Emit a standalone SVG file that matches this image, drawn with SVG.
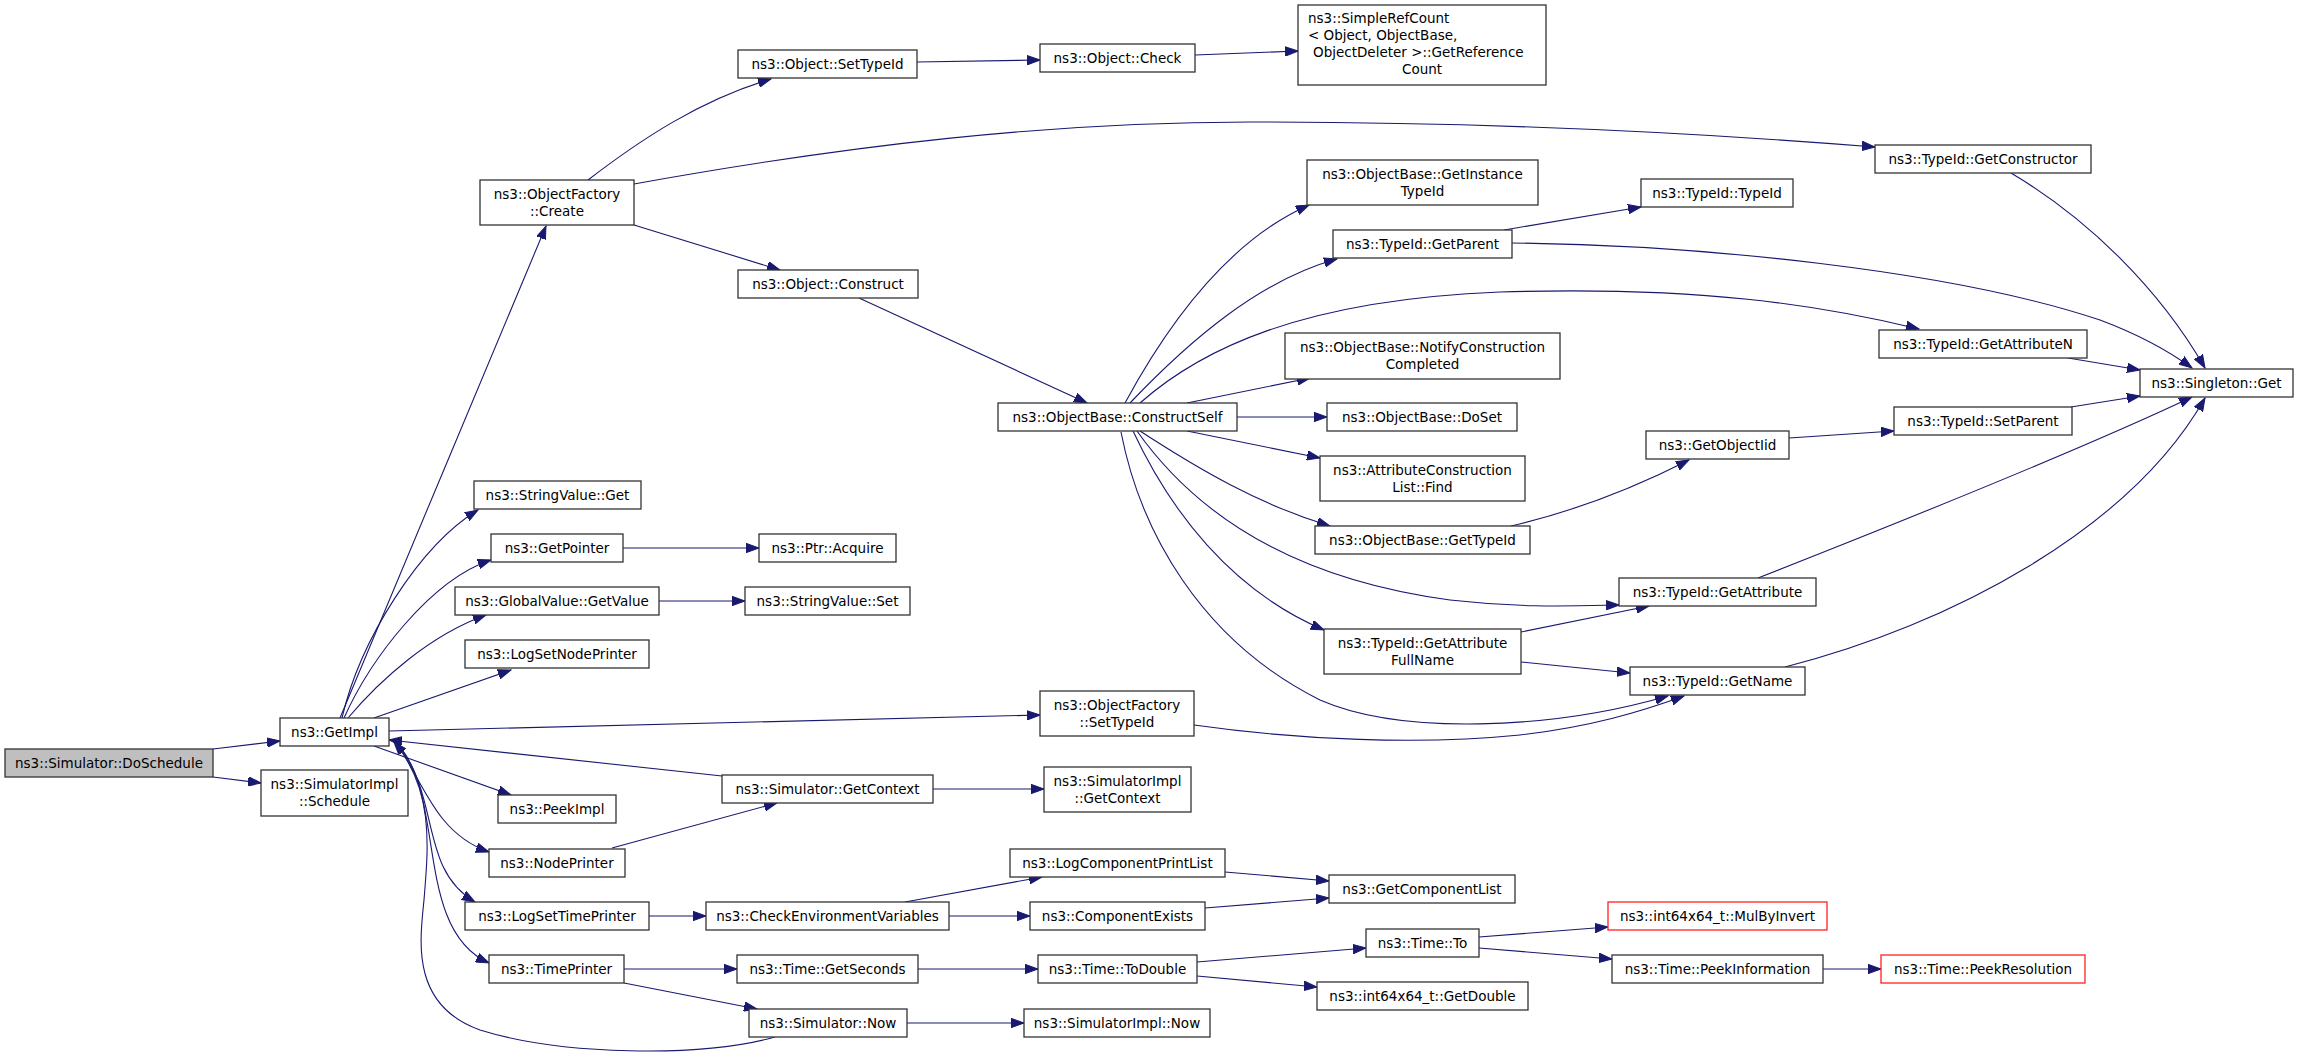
<svg xmlns="http://www.w3.org/2000/svg" width="2299" height="1059" viewBox="0 0 2299 1059">
<defs>
<marker id="ah" markerUnits="userSpaceOnUse" markerWidth="14" markerHeight="10" refX="13" refY="5" orient="auto">
<path d="M0,0.3 L13,5 L0,9.7 z" fill="#191970" stroke="#191970" stroke-width="1"/>
</marker>
<style>
.n rect{fill:#fff;stroke:#333;stroke-width:1.3}
.n rect.g{fill:#bfbfbf}
.n rect.r{stroke:#ff2020}
.n text{font-family:"DejaVu Sans","Liberation Sans",sans-serif;font-size:13.5px;text-anchor:middle;fill:#000}
.n text.l{text-anchor:start}
#edges path{fill:none;stroke:#191970;stroke-width:1.1;marker-end:url(#ah)}
</style>
</defs>
<rect width="2299" height="1059" fill="#fff"/>
<g id="edges">
<path d="M213,749 L280,741"/>
<path d="M213,777 L261,783"/>
<path d="M340,718 C342,712 530,265 546,226"/>
<path d="M342,718 C360,640 420,545 478,510"/>
<path d="M344,718 C370,660 430,580 491,560"/>
<path d="M348,718 C380,680 430,635 486,615"/>
<path d="M374,718 L511,670"/>
<path d="M389,731 L1040,715"/>
<path d="M722,776 L389,740"/>
<path d="M374,746 L511,795"/>
<path d="M400,747 C425,790 440,835 489,852"/>
<path d="M400,747 C440,800 420,870 475,902"/>
<path d="M400,747 C445,800 415,930 489,963"/>
<path d="M775,1037 C700,1058 560,1055 480,1030 C410,1005 420,940 424,900 C428,850 435,790 394,742"/>
<path d="M612,848 L777,803"/>
<path d="M623,548 L759,548"/>
<path d="M659,601 L745,601"/>
<path d="M649,916 L706,916"/>
<path d="M624,969 L737,969"/>
<path d="M624,983 L757,1009"/>
<path d="M933,789 L1044,789"/>
<path d="M905,902 L1042,877"/>
<path d="M949,916 L1030,916"/>
<path d="M918,969 L1038,969"/>
<path d="M907,1023 L1024,1023"/>
<path d="M1225,872 L1329,881"/>
<path d="M1205,908 L1329,898"/>
<path d="M1197,962 L1366,948"/>
<path d="M1197,976 L1317,987"/>
<path d="M1479,937 L1608,927"/>
<path d="M1479,948 L1612,959"/>
<path d="M1823,969 L1881,969"/>
<path d="M1194,725 C1300,740 1420,745 1520,735 C1590,727 1640,712 1684,696"/>
<path d="M1121,432 C1140,530 1200,640 1320,700 C1400,735 1550,730 1668,696"/>
<path d="M859,298 L1087,403"/>
<path d="M588,180 C640,140 700,100 771,79"/>
<path d="M634,184 C850,145 1050,122 1250,122 C1500,122 1700,133 1875,147"/>
<path d="M634,225 L780,270"/>
<path d="M917,62 L1040,60"/>
<path d="M1195,55 L1298,51"/>
<path d="M1125,403 C1170,320 1230,240 1309,205"/>
<path d="M1130,403 C1190,340 1260,280 1337,259"/>
<path d="M1140,403 C1200,350 1300,300 1500,292 C1700,286 1820,305 1919,329"/>
<path d="M1187,403 L1310,378"/>
<path d="M1237,417 L1327,417"/>
<path d="M1187,431 L1320,458"/>
<path d="M1140,431 C1200,470 1260,505 1330,526"/>
<path d="M1133,431 C1170,510 1230,590 1324,630"/>
<path d="M1137,431 C1200,520 1300,580 1450,600 C1520,608 1570,606 1619,605"/>
<path d="M1521,632 L1649,606"/>
<path d="M1521,662 L1630,673"/>
<path d="M1511,526 C1580,510 1640,485 1689,460"/>
<path d="M1789,438 L1894,431"/>
<path d="M1504,230 L1641,207"/>
<path d="M1512,243 C1700,245 1950,270 2100,320 C2140,335 2170,352 2192,368"/>
<path d="M2011,173 C2090,220 2160,290 2205,368"/>
<path d="M2068,358 L2140,370"/>
<path d="M2071,407 L2140,396"/>
<path d="M1758,578 C1880,530 2080,450 2192,397"/>
<path d="M1785,667 C1950,625 2130,530 2205,398"/>
</g>
<g id="n1" class="n"><rect class="g" x="5" y="749" width="208" height="28"/><text x="109" y="768">ns3::Simulator::DoSchedule</text></g>
<g id="n2" class="n"><rect x="280" y="718" width="109" height="28"/><text x="334.5" y="737">ns3::GetImpl</text></g>
<g id="n3" class="n"><rect x="261" y="770" width="147" height="46"/><text x="334.5" y="789">ns3::SimulatorImpl</text><text x="334.5" y="806">::Schedule</text></g>
<g id="n4" class="n"><rect x="480" y="180" width="154" height="45"/><text x="557" y="199">ns3::ObjectFactory</text><text x="557" y="216">::Create</text></g>
<g id="n5" class="n"><rect x="474" y="481" width="167" height="28"/><text x="557.5" y="500">ns3::StringValue::Get</text></g>
<g id="n6" class="n"><rect x="491" y="534" width="132" height="28"/><text x="557" y="553">ns3::GetPointer</text></g>
<g id="n7" class="n"><rect x="759" y="534" width="137" height="28"/><text x="827.5" y="553">ns3::Ptr::Acquire</text></g>
<g id="n8" class="n"><rect x="455" y="587" width="204" height="28"/><text x="557" y="606">ns3::GlobalValue::GetValue</text></g>
<g id="n9" class="n"><rect x="745" y="587" width="165" height="28"/><text x="827.5" y="606">ns3::StringValue::Set</text></g>
<g id="n10" class="n"><rect x="465" y="640" width="184" height="28"/><text x="557" y="659">ns3::LogSetNodePrinter</text></g>
<g id="n11" class="n"><rect x="498" y="795" width="118" height="28"/><text x="557" y="814">ns3::PeekImpl</text></g>
<g id="n12" class="n"><rect x="489" y="849" width="136" height="28"/><text x="557" y="868">ns3::NodePrinter</text></g>
<g id="n13" class="n"><rect x="465" y="902" width="184" height="28"/><text x="557" y="921">ns3::LogSetTimePrinter</text></g>
<g id="n14" class="n"><rect x="489" y="955" width="135" height="28"/><text x="556.5" y="974">ns3::TimePrinter</text></g>
<g id="n15" class="n"><rect x="738" y="50" width="179" height="28"/><text x="827.5" y="69">ns3::Object::SetTypeId</text></g>
<g id="n16" class="n"><rect x="738" y="270" width="180" height="28"/><text x="828" y="289">ns3::Object::Construct</text></g>
<g id="n17" class="n"><rect x="1040" y="44" width="155" height="28"/><text x="1117.5" y="63">ns3::Object::Check</text></g>
<g id="n18" class="n"><rect x="1298" y="5" width="248" height="80"/><text class="l" x="1308" y="23">ns3::SimpleRefCount</text><text class="l" x="1308" y="40">&lt; Object, ObjectBase,</text><text class="l" x="1313" y="57">ObjectDeleter &gt;::GetReference</text><text x="1422" y="74">Count</text></g>
<g id="n19" class="n"><rect x="1307" y="160" width="231" height="45"/><text x="1422.5" y="179">ns3::ObjectBase::GetInstance</text><text x="1422.5" y="196">TypeId</text></g>
<g id="n20" class="n"><rect x="1333" y="230" width="179" height="28"/><text x="1422.5" y="249">ns3::TypeId::GetParent</text></g>
<g id="n21" class="n"><rect x="1641" y="179" width="152" height="28"/><text x="1717" y="198">ns3::TypeId::TypeId</text></g>
<g id="n22" class="n"><rect x="1285" y="333" width="275" height="46"/><text x="1422.5" y="352">ns3::ObjectBase::NotifyConstruction</text><text x="1422.5" y="369">Completed</text></g>
<g id="n23" class="n"><rect x="1875" y="145" width="216" height="28"/><text x="1983" y="164">ns3::TypeId::GetConstructor</text></g>
<g id="n24" class="n"><rect x="1879" y="330" width="208" height="28"/><text x="1983" y="349">ns3::TypeId::GetAttributeN</text></g>
<g id="n25" class="n"><rect x="2140" y="369" width="153" height="28"/><text x="2216.5" y="388">ns3::Singleton::Get</text></g>
<g id="n26" class="n"><rect x="1894" y="407" width="178" height="28"/><text x="1983" y="426">ns3::TypeId::SetParent</text></g>
<g id="n27" class="n"><rect x="1646" y="431" width="143" height="28"/><text x="1717.5" y="450">ns3::GetObjectIid</text></g>
<g id="n28" class="n"><rect x="1619" y="578" width="197" height="28"/><text x="1717.5" y="597">ns3::TypeId::GetAttribute</text></g>
<g id="n29" class="n"><rect x="1630" y="667" width="175" height="28"/><text x="1717.5" y="686">ns3::TypeId::GetName</text></g>
<g id="n30" class="n"><rect x="998" y="403" width="239" height="28"/><text x="1117.5" y="422">ns3::ObjectBase::ConstructSelf</text></g>
<g id="n31" class="n"><rect x="1327" y="403" width="190" height="28"/><text x="1422" y="422">ns3::ObjectBase::DoSet</text></g>
<g id="n32" class="n"><rect x="1320" y="456" width="205" height="45"/><text x="1422.5" y="475">ns3::AttributeConstruction</text><text x="1422.5" y="492">List::Find</text></g>
<g id="n33" class="n"><rect x="1315" y="526" width="215" height="28"/><text x="1422.5" y="545">ns3::ObjectBase::GetTypeId</text></g>
<g id="n34" class="n"><rect x="1324" y="629" width="197" height="45"/><text x="1422.5" y="648">ns3::TypeId::GetAttribute</text><text x="1422.5" y="665">FullName</text></g>
<g id="n35" class="n"><rect x="1040" y="691" width="154" height="45"/><text x="1117" y="710">ns3::ObjectFactory</text><text x="1117" y="727">::SetTypeId</text></g>
<g id="n36" class="n"><rect x="722" y="775" width="211" height="28"/><text x="827.5" y="794">ns3::Simulator::GetContext</text></g>
<g id="n37" class="n"><rect x="1044" y="767" width="147" height="45"/><text x="1117.5" y="786">ns3::SimulatorImpl</text><text x="1117.5" y="803">::GetContext</text></g>
<g id="n38" class="n"><rect x="1010" y="849" width="215" height="28"/><text x="1117.5" y="868">ns3::LogComponentPrintList</text></g>
<g id="n39" class="n"><rect x="706" y="902" width="243" height="28"/><text x="827.5" y="921">ns3::CheckEnvironmentVariables</text></g>
<g id="n40" class="n"><rect x="1030" y="902" width="175" height="28"/><text x="1117.5" y="921">ns3::ComponentExists</text></g>
<g id="n41" class="n"><rect x="737" y="955" width="181" height="28"/><text x="827.5" y="974">ns3::Time::GetSeconds</text></g>
<g id="n42" class="n"><rect x="1038" y="955" width="159" height="28"/><text x="1117.5" y="974">ns3::Time::ToDouble</text></g>
<g id="n43" class="n"><rect x="749" y="1009" width="158" height="28"/><text x="828" y="1028">ns3::Simulator::Now</text></g>
<g id="n44" class="n"><rect x="1024" y="1009" width="186" height="28"/><text x="1117" y="1028">ns3::SimulatorImpl::Now</text></g>
<g id="n45" class="n"><rect x="1329" y="875" width="186" height="28"/><text x="1422" y="894">ns3::GetComponentList</text></g>
<g id="n46" class="n"><rect x="1366" y="929" width="113" height="28"/><text x="1422.5" y="948">ns3::Time::To</text></g>
<g id="n47" class="n"><rect class="r" x="1608" y="902" width="219" height="28"/><text x="1717.5" y="921">ns3::int64x64_t::MulByInvert</text></g>
<g id="n48" class="n"><rect x="1317" y="982" width="211" height="28"/><text x="1422.5" y="1001">ns3::int64x64_t::GetDouble</text></g>
<g id="n49" class="n"><rect x="1612" y="955" width="211" height="28"/><text x="1717.5" y="974">ns3::Time::PeekInformation</text></g>
<g id="n50" class="n"><rect class="r" x="1881" y="955" width="204" height="28"/><text x="1983" y="974">ns3::Time::PeekResolution</text></g>
</svg>
